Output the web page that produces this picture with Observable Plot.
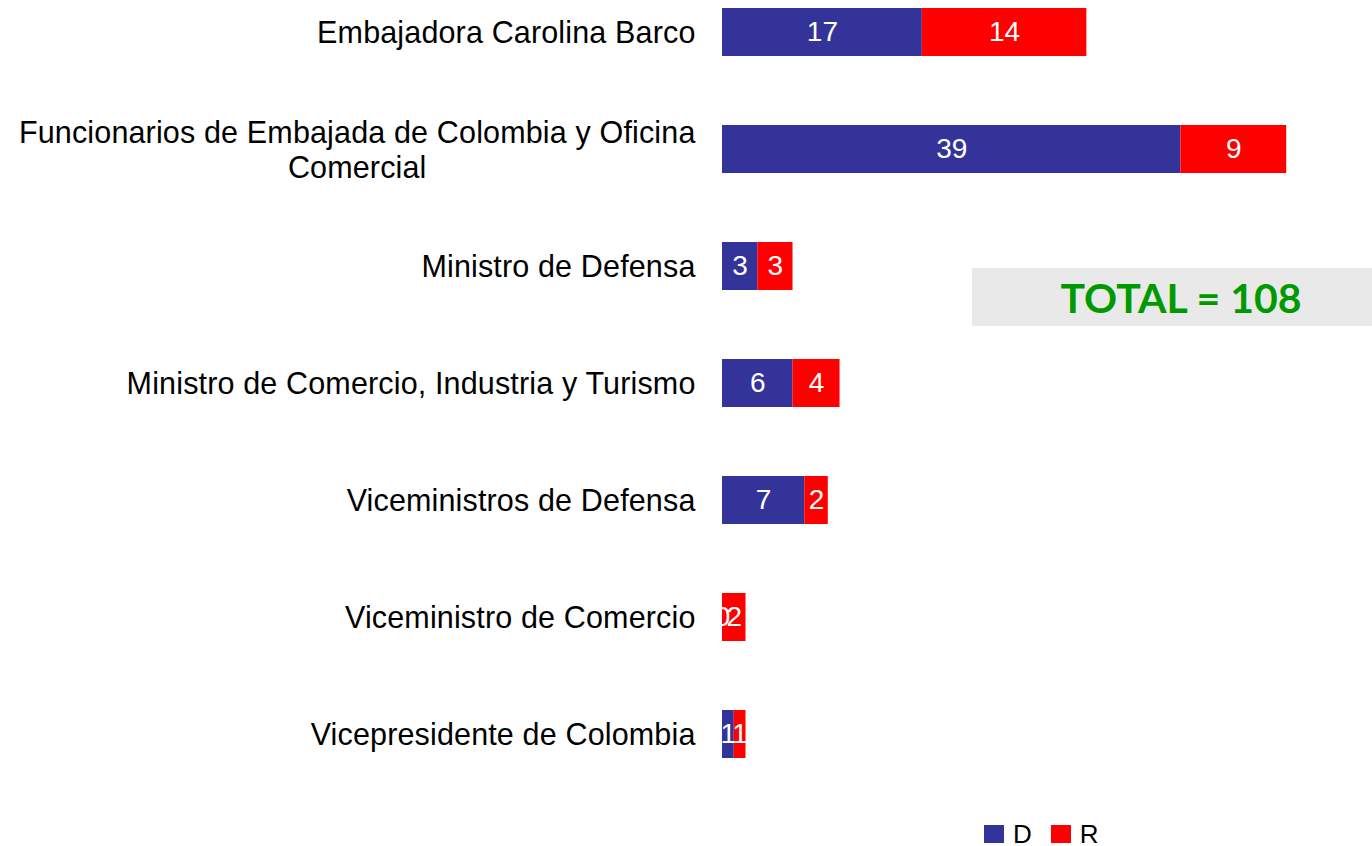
<!DOCTYPE html>
<html>
<head>
<meta charset="utf-8">
<script src="https://cdn.jsdelivr.net/npm/d3@7"></script>
<script src="https://cdn.jsdelivr.net/npm/@observablehq/plot@0.6"></script>
<style>
  html, body { margin: 0; padding: 0; background: #fff; overflow: hidden; }
  #wrap { position: relative; width: 1372px; height: 846px; font-family: "Liberation Sans", Arial, sans-serif; }
  #total { position: absolute; left: 972px; top: 268px; width: 400px; height: 58px; background: #e9e9e9;
           display: flex; align-items: center; justify-content: center; box-sizing: border-box; padding-left: 18px;
           font-family: "Lato", "Open Sans", sans-serif; font-weight: 700; font-size: 41px; color: #009a00; }
  #legend { position: absolute; left: 984px; top: 822px; height: 24px; display: flex; align-items: center;
            font-size: 26px; color: #000; }
  #legend .item { display: flex; align-items: center; margin-right: 19px; }
  #legend .sw { width: 20px; height: 18px; margin-right: 9px; }
</style>
</head>
<body>
<div id="wrap">
  <div id="chart"></div>
  <div id="total"></div>
  <div id="legend"></div>
</div>
<script>
const categories = [
  "Embajadora Carolina Barco",
  "Funcionarios de Embajada de Colombia y Oficina Comercial",
  "Ministro de Defensa",
  "Ministro de Comercio, Industria y Turismo",
  "Viceministros de Defensa",
  "Viceministro de Comercio",
  "Vicepresidente de Colombia"
];
const tickLabels = [
  "Embajadora Carolina Barco",
  "Funcionarios de Embajada de Colombia y Oficina\nComercial",
  "Ministro de Defensa",
  "Ministro de Comercio, Industria y Turismo",
  "Viceministros de Defensa",
  "Viceministro de Comercio",
  "Vicepresidente de Colombia"
];
const series = ["D", "R"];
const valuesD = [17, 39, 3, 6, 7, 0, 1];
const valuesR = [14, 9, 3, 4, 2, 2, 1];
const colors = ["#333399", "#ff0000"];
const totalLabel = "TOTAL = 108";

const data = [];
categories.forEach((c, i) => {
  data.push({cat: c, series: "D", value: valuesD[i]});
  data.push({cat: c, series: "R", value: valuesR[i]});
});
const labelOf = new Map(categories.map((c, i) => [c, tickLabels[i]]));

const chart = Plot.plot({
  width: 1372,
  height: 820,
  marginLeft: 722,
  marginRight: 0,
  marginTop: 8,
  marginBottom: 62,
  style: {fontFamily: '"Liberation Sans", Arial, sans-serif', background: "transparent"},
  x: {domain: [0, 55.3], axis: null},
  y: {domain: categories, paddingInner: 0.59, paddingOuter: 0, align: 0.5, axis: null},
  color: {domain: series, range: colors},
  marks: [
    Plot.barX(data, Plot.stackX({y: "cat", x: "value", z: "series", fill: "series", inset: 0})),
    Plot.text(data, Plot.stackX({y: "cat", x: "value", z: "series", text: d => String(d.value),
      fill: "white", fontSize: 28})),
    Plot.axisY({tickSize: 0, tickPadding: 27, fontSize: 30.5, lineHeight: 1.12, label: null,
      tickFormat: d => labelOf.get(d), lineWidth: Infinity, fill: "#000", textOverflow: null})
  ]
});
document.getElementById("chart").appendChild(chart);

// center the lines of multi-line tick labels (block stays right-aligned)
chart.querySelectorAll('g[aria-label="y-axis tick label"] text').forEach(t => {
  t.style.letterSpacing = "0.15px";
});
chart.querySelectorAll('g[aria-label="y-axis tick label"] text').forEach(t => {
  const spans = t.querySelectorAll("tspan");
  if (spans.length < 2) return;
  const b0 = t.getBBox();
  const right = b0.x + b0.width;
  t.setAttribute("text-anchor", "middle");
  const b1 = t.getBBox();
  const c1 = b1.x + b1.width / 2;
  const target = right - b0.width / 2;
  spans.forEach(s => s.setAttribute("x", (+(s.getAttribute("x") || 0)) + target - c1));
});

document.getElementById("total").textContent = totalLabel;
const legend = document.getElementById("legend");
series.forEach((s, i) => {
  const item = document.createElement("div");
  item.className = "item";
  const sw = document.createElement("div");
  sw.className = "sw";
  sw.style.background = colors[i];
  const lab = document.createElement("span");
  lab.textContent = s;
  item.appendChild(sw); item.appendChild(lab);
  legend.appendChild(item);
});
</script>
</body>
</html>
